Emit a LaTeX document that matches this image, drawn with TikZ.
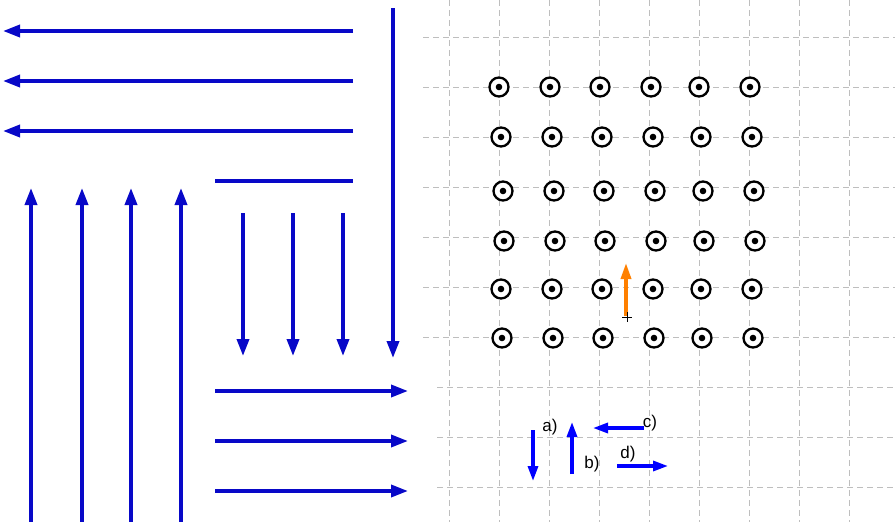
\documentclass[tikz,border=0pt]{standalone}
\usepackage{fontspec}
\setmainfont{Liberation Sans}
\usetikzlibrary{arrows.meta}
\definecolor{darkblue}{RGB}{8,8,200}
\definecolor{gridgray}{RGB}{190,190,190}
\definecolor{orangeA}{RGB}{255,128,0}
\begin{document}
\begin{tikzpicture}[x=1pt,y=-1pt,
  gridline/.style={gridgray,line width=1pt,dash pattern=on 6pt off 4pt},
  bigarrow/.style={darkblue,line width=3.6pt,-{Triangle[length=17pt,width=12pt]}},
  bigline/.style={darkblue,line width=3.6pt},
  smallarrow/.style={blue,line width=3.2pt,-{Triangle[length=15pt,width=10pt]}},
  lbl/.style={font=\fontsize{17}{19}\selectfont,inner sep=0pt},
  dotsym/.style={draw=black,line width=2.3pt,circle,minimum size=19pt,inner sep=0pt,fill=white}
]
\useasboundingbox (0,0) rectangle (895,522);
% grid
\foreach \x in {449,499,...,849} \draw[gridline] (\x,0) -- (\x,522);
\foreach \y in {37,87,...,337} \draw[gridline] (423,\y) -- (895,\y);
\foreach \y in {387,437,487} \draw[gridline] (437,\y) -- (895,\y);
% left arrows
\foreach \y in {31,81,131} \draw[bigarrow] (353,\y) -- (3,\y);
\draw[bigline] (215,181) -- (353,181);
\draw[bigarrow] (393,8) -- (393,358);
\foreach \x in {243,293,343} \draw[bigarrow] (\x,213) -- (\x,356);
\foreach \x in {31,82,131,181} \draw[bigarrow] (\x,522) -- (\x,188);
\foreach \y in {391,441,491} \draw[bigarrow] (215,\y) -- (408,\y);
% symbols
\foreach \xa/\y in {499/87,501/137,503/191,504/241,501/289,502/338}{
  \foreach \k/\dx in {0/0,1/51,2/101,3/152,4/200,5/251}{
    \node[dotsym] (s\y-\k) at (\xa+\dx,\y) {};
    \fill (\xa+\dx,\y) circle (3.3pt);
  }
}
% orange arrow
\draw[orangeA,line width=3.4pt,-{Triangle[length=16pt,width=10pt]}] (626,316) -- (626,263);
\draw[black,line width=1pt] (622,317) -- (632,317) (627,312) -- (627,322);
% small arrows
\draw[smallarrow] (533,430) -- (533,481);
\node[lbl] (la) at (550,427) {a)};
\draw[smallarrow] (572,474) -- (572,422);
\node[lbl] (lb) at (592,464) {b)};
\draw[smallarrow] (644,428) -- (593,428);
\node[lbl] (lc) at (650,423) {c)};
\draw[smallarrow] (617,466) -- (668,466);
\node[lbl] (ld) at (628,454) {d)};
\end{tikzpicture}
\end{document}
